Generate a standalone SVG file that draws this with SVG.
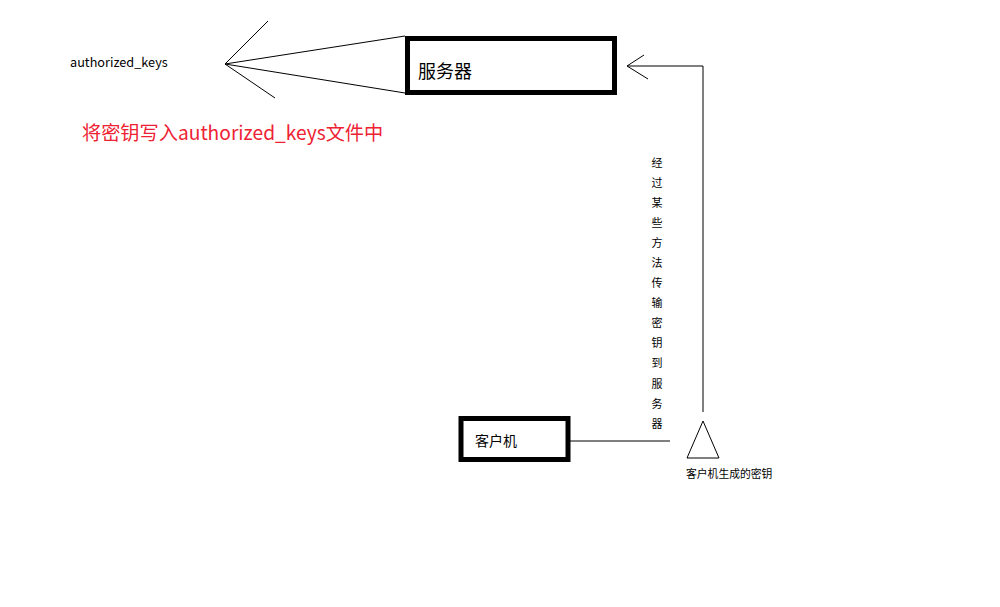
<svg xmlns="http://www.w3.org/2000/svg" width="1000" height="607" viewBox="0 0 1000 607">
<style>
.box{fill:#fff;stroke:#000;stroke-width:5}
.ln{fill:none;stroke:#000;stroke-width:1}
.t{font-family:"Noto Sans CJK SC","Noto Sans",sans-serif;fill:#000}
</style>
<rect width="1000" height="607" fill="#fff"/>
<g id="connectors">
<path class="ln" d="M225,64 L268,21 M225,64 L275,98 M225,64 L405,36 M225,64 L405,93"/>
<path class="ln" d="M703,412 L703,66 L627,66 M627,66 L644,55 M627,66 L648,79"/>
<path class="ln" d="M570,441 L670,441"/>
</g>
<g id="server">
<rect class="box" x="407.5" y="38.5" width="207" height="54"/>
<text class="t" x="418" y="78" font-size="18">服务器</text>
</g>
<g id="client">
<rect class="box" x="461" y="418.5" width="107" height="41"/>
<text class="t" x="475" y="446" font-size="14">客户机</text>
</g>
<g id="key">
<path class="ln" d="M703,421 L687,458 L719,458 Z"/>
<text class="t" x="686" y="478" font-size="10.8">客户机生成的密钥</text>
</g>
<g id="authorized_keys">
<text class="t" x="70" y="67" font-size="12.7">authorized_keys</text>
</g>
<g id="note">
<text class="t" x="82" y="140" font-size="19.2" style="fill:#ee2233">将密钥写入authorized_keys文件中</text>
</g>
<g id="transfer-label" class="t" font-size="11" text-anchor="middle">
<text x="657" y="167">经</text>
<text x="657" y="187">过</text>
<text x="657" y="207">某</text>
<text x="657" y="227">些</text>
<text x="657" y="247">方</text>
<text x="657" y="267">法</text>
<text x="657" y="287">传</text>
<text x="657" y="307">输</text>
<text x="657" y="327">密</text>
<text x="657" y="347">钥</text>
<text x="657" y="367">到</text>
<text x="657" y="388">服</text>
<text x="657" y="408">务</text>
<text x="657" y="428">器</text>
</g>
</svg>
